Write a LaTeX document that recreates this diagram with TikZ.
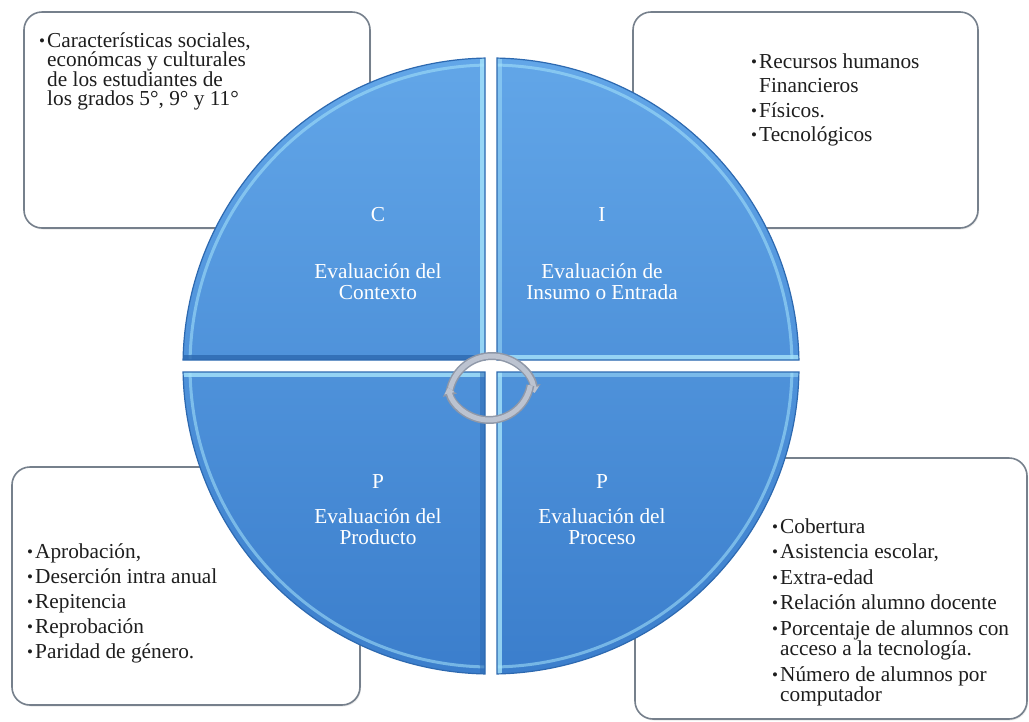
\documentclass[tikz,border=0pt]{standalone}
\usepackage{fontspec}
\setmainfont{Liberation Serif}
\usetikzlibrary{arrows.meta,shadows}
\definecolor{boxline}{HTML}{76808C}
\definecolor{circTop}{HTML}{62A6E8}
\definecolor{circBot}{HTML}{3B7ECC}
\definecolor{rimblue}{HTML}{2D69B0}
\definecolor{hilite}{HTML}{A6E4FB}
\definecolor{arrowgray}{HTML}{BCC3D0}
\definecolor{arrowedge}{HTML}{8F98A8}
\definecolor{inktext}{HTML}{1E1E1E}
\newcommand{\itm}{\makebox[8pt][l]{\raisebox{0.6pt}{\fontsize{17}{17}\selectfont •}}}
\newcommand{\cnt}{\hspace*{8pt}}
\newcommand{\qpathTL}{(485,-360) -- (485,-58.06) arc[start angle=91.116, end angle=178.884, radius=308] -- cycle}
\newcommand{\qpathTR}{(497,-360) -- (798.94,-360) arc[start angle=1.116, end angle=88.884, radius=308] -- cycle}
\newcommand{\qpathBL}{(485,-372) -- (183.06,-372) arc[start angle=181.116, end angle=268.884, radius=308] -- cycle}
\newcommand{\qpathBR}{(497,-372) -- (497,-673.94) arc[start angle=271.116, end angle=358.884, radius=308] -- cycle}
\newcommand{\circshade}{\shade[top color=circTop, bottom color=circBot] (183,-58) rectangle (799,-674);
  \draw[hilite, line width=3pt, opacity=.55] (491,-366) circle[radius=301];}
\begin{document}
\begin{tikzpicture}[x=1pt,y=1pt,
  infobox/.style={draw=boxline, line width=1.6pt, fill=white, rounded corners=18pt, inner sep=0pt,
     drop shadow={shadow xshift=1pt, shadow yshift=-1.5pt, opacity=.18}},
  listtext/.style={anchor=base west, inner sep=0pt, text=inktext},
  quadtext/.style={anchor=base, inner sep=0pt, text=white},
  rim/.style={draw=rimblue, line width=1.2pt},
  lightstrip/.style={draw=hilite, line width=5pt, opacity=.8},
  darkstrip/.style={draw=rimblue, line width=5pt, opacity=.8},
  arrowouter/.style={draw=arrowedge, line width=8pt, -{Triangle[length=8pt,width=14pt]}},
  arrowinner/.style={draw=arrowgray, line width=5pt, -{Triangle[length=6pt,width=10pt]}}
]
\useasboundingbox (0,0) rectangle (1029,-721);
\fill[white] (0,0) rectangle (1029,-721);

% boxes
\node[infobox, minimum width=346pt, minimum height=216pt] (boxC) at (197,-120) {};
\node[infobox, minimum width=345pt, minimum height=216pt] (boxI) at (805.5,-120) {};
\node[infobox, minimum width=348pt, minimum height=238pt] (boxPr) at (186,-586) {};
\node[infobox, minimum width=392pt, minimum height=261pt] (boxPc) at (831,-588.5) {};

% quadrants
\coordinate (O) at (491,-366);
\begin{scope}
  \clip \qpathTL;
  \circshade
  \draw[lightstrip] (482.5,-50) -- (482.5,-357.5);
  \draw[darkstrip] (180,-357.5) -- (485,-357.5);
\end{scope}
\draw[rim] \qpathTL;
\begin{scope}
  \clip \qpathTR;
  \circshade
  \draw[lightstrip] (497,-357.5) -- (805,-357.5);
  \draw[lightstrip, opacity=.5] (499.5,-50) -- (499.5,-360);
\end{scope}
\draw[rim] \qpathTR;
\begin{scope}
  \clip \qpathBL;
  \circshade
  \draw[lightstrip] (180,-374.5) -- (485,-374.5);
  \draw[darkstrip, opacity=.5] (482.5,-372) -- (482.5,-680);
\end{scope}
\draw[rim] \qpathBL;
\begin{scope}
  \clip \qpathBR;
  \circshade
  \draw[lightstrip] (499.5,-372) -- (499.5,-680);
  \draw[lightstrip, opacity=.5] (497,-374.5) -- (805,-374.5);
\end{scope}
\draw[rim] \qpathBR;

% cycle arrows
\coordinate (upStart) at (449.42,-393.02);
\coordinate (loStart) at (530.36,-385.29);
\draw[arrowouter] (upStart) arc[start angle=172, end angle=8, radius=43];
\draw[arrowinner] (upStart) arc[start angle=172, end angle=8, radius=43];
\draw[arrowouter] (loStart) arc[start angle=350, end angle=193, radius=42];
\draw[arrowinner] (loStart) arc[start angle=350, end angle=193, radius=42];

% quadrant labels
\node[quadtext] (qC) at (378,-221) {\parbox[t]{220pt}{\centering\fontsize{21.3}{21}\selectfont C\\[36pt] Evaluación del\\ Contexto}};
\node[quadtext] (qI) at (602,-221) {\parbox[t]{220pt}{\centering\fontsize{21.3}{21}\selectfont I\\[36pt] Evaluación de\\ Insumo o Entrada}};
\node[quadtext] (qPr) at (378,-488) {\parbox[t]{220pt}{\centering\fontsize{21.3}{21}\selectfont P\\[14pt] Evaluación del\\ Producto}};
\node[quadtext] (qPc) at (602,-488) {\parbox[t]{220pt}{\centering\fontsize{21.3}{21}\selectfont P\\[14pt] Evaluación del\\ Proceso}};

% box texts
\node[listtext] (tC) at (39,-47) {\parbox[t]{320pt}{\raggedright\fontsize{21.3}{19.5}\selectfont
  \itm Características sociales,\\ \cnt económcas y culturales\\ \cnt de los estudiantes de\\ \cnt los grados 5°, 9° y 11°}};
\node[listtext] (tI) at (751,-68) {\parbox[t]{220pt}{\raggedright\fontsize{21.3}{20.5}\selectfont
  \itm Recursos humanos\\[4pt] \cnt Financieros\\[4pt] \itm Físicos.\\[4pt] \itm Tecnológicos}};
\node[listtext] (tPr) at (27,-558) {\parbox[t]{320pt}{\raggedright\fontsize{21.3}{20.5}\selectfont
  \itm Aprobación,\\[4.5pt] \itm Deserción intra anual\\[4.5pt] \itm Repitencia\\[4.5pt] \itm Reprobación\\[4.5pt] \itm Paridad de género.}};
\node[listtext] (tPc) at (772,-533) {\parbox[t]{250pt}{\raggedright\fontsize{21.3}{20.5}\selectfont
  \itm Cobertura\\[5pt] \itm Asistencia escolar,\\[5pt] \itm Extra-edad\\[5pt] \itm Relación alumno docente\\[5pt] \itm Porcentaje de alumnos con\\ \cnt acceso a la tecnología.\\[5pt] \itm Número de alumnos por\\ \cnt computador}};
\end{tikzpicture}
\end{document}
